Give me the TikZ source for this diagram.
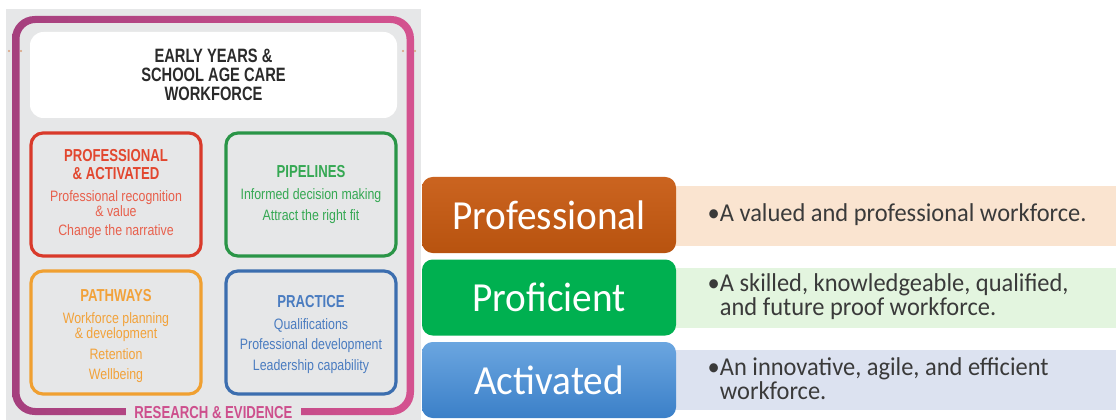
\documentclass[tikz,border=0pt]{standalone}
\usepackage{fontspec}
\setmainfont{Liberation Sans}
\newfontfamily\condfont[FakeStretch=0.82]{Liberation Sans}
\newfontfamily\headfont[FakeStretch=0.76]{Liberation Sans}
\newfontfamily\calfont[FakeStretch=0.95]{Carlito}
\usetikzlibrary{calc}
\definecolor{panelgray}{HTML}{E6E7E8}
\definecolor{framel}{HTML}{A5407E}
\definecolor{framer}{HTML}{D4528F}
\definecolor{titlegray}{HTML}{2B2B2B}
\definecolor{redA}{HTML}{D93A2B}
\definecolor{redT}{HTML}{E2472F}
\definecolor{redB}{HTML}{E8604C}
\definecolor{greenA}{HTML}{2A9547}
\definecolor{greenT}{HTML}{35A853}
\definecolor{orangeA}{HTML}{F0A031}
\definecolor{orangeT}{HTML}{F2A23A}
\definecolor{blueA}{HTML}{3C6EAF}
\definecolor{blueT}{HTML}{4A7CC0}
\definecolor{dotc}{HTML}{D9A07A}
\definecolor{profTop}{HTML}{CB6420}
\definecolor{profBot}{HTML}{B8530F}
\definecolor{profPanel}{HTML}{FAE4D0}
\definecolor{profGreen}{HTML}{00B050}
\definecolor{greenPanel}{HTML}{E3F5DF}
\definecolor{actTop}{HTML}{6BA6E0}
\definecolor{actBot}{HTML}{3B80C8}
\definecolor{actPanel}{HTML}{DCE2F0}
\definecolor{bodytext}{HTML}{3A3A3A}
\begin{document}
\begin{tikzpicture}[x=0.75pt,y=-0.75pt,
  quad/.style={draw, line width=2.4pt, rounded corners=9pt, fill=panelgray},
  qhead/.style={font=\headfont\bfseries\fontsize{13}{13}\selectfont, align=center},
  qbody/.style={font=\condfont\fontsize{11.3}{10.5}\selectfont, align=center},
  levelbox/.style={rounded corners=8pt, text=white, font=\calfont\fontsize{31}{34}\selectfont,
    minimum width=254*0.75pt, minimum height=76*0.75pt},
  leveltext/.style={font=\calfont\fontsize{19.3}{18}\selectfont, text=bodytext, align=left, anchor=west}]
\useasboundingbox (0,0) rectangle (1116,420);
\fill[white] (0,0) rectangle (1116,420);

% ---- left framework panel ----
\fill[panelgray] (6,9) rectangle (421,420);
\shade[left color=framel, right color=framer, even odd rule]
  [rounded corners=17pt] (12,16) rectangle (414,415)
  [rounded corners=12pt] (19.5,23) rectangle (406.5,408);
\foreach \px in {9,21,403,415} \fill[dotc] (\px,51) circle (1.2);

\node[fill=white, rounded corners=10pt, minimum width=367*0.75pt, minimum height=86*0.75pt,
      text=titlegray, font=\headfont\bfseries\fontsize{14.5}{14.3}\selectfont, align=center]
  (title) at (213.5,75) {EARLY YEARS \&\\SCHOOL AGE CARE\\WORKFORCE};

% four pillars
\draw[quad, draw=redA] (31,133) rectangle (201,256);
\node[qhead, text=redT] (pa) at (116,164.5) {PROFESSIONAL\\\& ACTIVATED};
\node[qbody, text=redB] (pab) at (116,214.5) {Professional recognition\\\& value\\[4pt]Change the narrative};

\draw[quad, draw=greenA] (226,133) rectangle (396,256);
\node[qhead, text=greenT] (pi) at (311,172) {PIPELINES};
\node[qbody, text=greenT] (pib) at (311,206) {Informed decision making\\[4.5pt]Attract the right fit};

\draw[quad, draw=orangeA] (31,271) rectangle (201,394);
\node[qhead, text=orangeT] (pw) at (116,295.5) {PATHWAYS};
\node[qbody, text=orangeT] (pwb) at (116,347.5) {Workforce planning\\\& development\\[4.5pt]Retention\\[4.5pt]Wellbeing};

\draw[quad, draw=blueA] (226,271) rectangle (396,394);
\node[qhead, text=blueT] (pr) at (311,301.5) {PRACTICE};
\node[qbody, text=blueT] (prb) at (311,346.5) {Qualifications\\[4.3pt]Professional development\\[4.3pt]Leadership capability};

\fill[panelgray] (126,407) rectangle (301,420);
\node[font=\headfont\bfseries\fontsize{13}{13}\selectfont, text=framer!85!framel] (re) at (213.5,412.5) {RESEARCH \& EVIDENCE};

% ---- right level bars ----
\fill[profPanel] (660,186) rectangle (1116,246);
\fill[greenPanel] (660,268) rectangle (1116,328);
\fill[actPanel] (660,350) rectangle (1116,410);

\node[levelbox, top color=profTop, bottom color=profBot] (prof) at (549,215) {Professional};
\node[levelbox, fill=profGreen] (profi) at (549,297.5) {Proficient};
\node[levelbox, top color=actTop, bottom color=actBot] (act) at (549,380) {Activated};

\node[leveltext] (t1) at (703,215) {\textbullet A valued and professional workforce.};
\node[leveltext] (t2) at (703,297) {\textbullet A skilled, knowledgeable, qualified,\\\phantom{\textbullet}and future proof workforce.};
\node[leveltext] (t3) at (703,379) {\textbullet An innovative, agile, and efficient\\\phantom{\textbullet}workforce.};
\end{tikzpicture}
\end{document}
